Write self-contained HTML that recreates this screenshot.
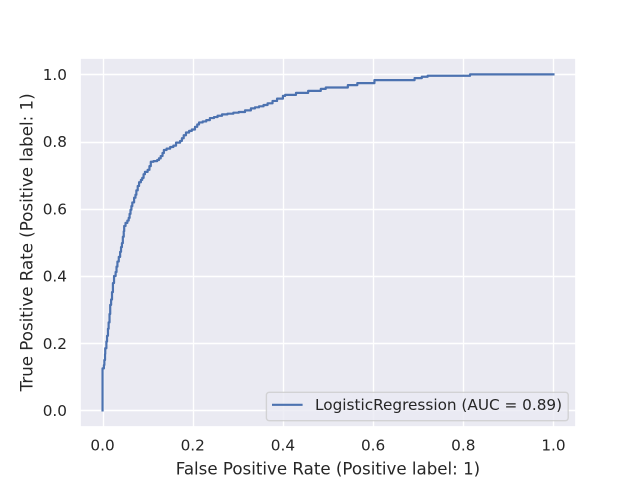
<!DOCTYPE html>
<html lang="en">
<head>
<meta charset="utf-8">
<title>ROC curve</title>
<style>
  html, body { margin: 0; padding: 0; background: #fff; width: 640px; height: 480px; overflow: hidden; }
  svg { display: block; }
  text { font-family: "DejaVu Sans", "Liberation Sans", sans-serif; fill: #262626; }
</style>
</head>
<body>
<svg id="chart" width="640" height="480" viewBox="0 0 640 480" xmlns="http://www.w3.org/2000/svg">
  <rect x="0" y="0" width="640" height="480" fill="#ffffff"/>
  <rect x="80" y="58" width="496" height="369" fill="#eaeaf2"/>
  <g id="grid"></g>
  <path id="curve" fill="none" stroke="#4c72b0" stroke-width="2.2" stroke-linejoin="round" stroke-linecap="square"/>
  <rect x="80" y="58" width="496" height="369" fill="none" stroke="#ffffff" stroke-width="1.74"/>
  <g id="x-ticks"></g>
  <g id="y-ticks"></g>
  <text x="328" y="474.5" font-size="16.67" text-anchor="middle">False Positive Rate (Positive label: 1)</text>
  <text x="0" y="0" font-size="16.67" text-anchor="middle" transform="translate(32.5 242.4) rotate(-90)">True Positive Rate (Positive label: 1)</text>
  <g>
    <rect x="266.4" y="392.3" width="301.8" height="28.4" rx="2.8" ry="2.8" fill="#eaeaf2" fill-opacity="0.8" stroke="#cccccc" stroke-opacity="0.8" stroke-width="1.39"/>
    <line x1="272" y1="404.8" x2="302.6" y2="404.8" stroke="#4c72b0" stroke-width="2.2"/>
    <text x="315" y="410" font-size="15.28">LogisticRegression (AUC = 0.89)</text>
  </g>
</svg>
<script>
const fprValues = [0, 0.003, 0.004, 0.0055, 0.006, 0.0085, 0.01, 0.012, 0.0135, 0.0155, 0.017, 0.019, 0.021, 0.023, 0.0255, 0.029, 0.031, 0.033, 0.036, 0.039, 0.041, 0.043, 0.045, 0.047, 0.048, 0.051, 0.055, 0.058, 0.06, 0.062, 0.064, 0.066, 0.07, 0.073, 0.075, 0.078, 0.081, 0.085, 0.088, 0.091, 0.094, 0.1, 0.104, 0.107, 0.113, 0.121, 0.125, 0.129, 0.133, 0.136, 0.142, 0.15, 0.157, 0.163, 0.172, 0.176, 0.18, 0.185, 0.192, 0.198, 0.205, 0.21, 0.214, 0.222, 0.23, 0.238, 0.247, 0.255, 0.265, 0.277, 0.29, 0.302, 0.316, 0.329, 0.338, 0.347, 0.357, 0.366, 0.377, 0.387, 0.4, 0.405, 0.429, 0.456, 0.484, 0.495, 0.544, 0.565, 0.603, 0.692, 0.708, 0.721, 0.815, 1];
const tprValues = [0.125, 0.135, 0.15, 0.168, 0.185, 0.205, 0.222, 0.243, 0.262, 0.287, 0.314, 0.33, 0.352, 0.379, 0.4, 0.412, 0.428, 0.443, 0.457, 0.472, 0.486, 0.498, 0.517, 0.533, 0.549, 0.558, 0.565, 0.573, 0.585, 0.597, 0.608, 0.619, 0.633, 0.642, 0.655, 0.668, 0.679, 0.686, 0.692, 0.703, 0.71, 0.716, 0.727, 0.74, 0.742, 0.745, 0.75, 0.757, 0.766, 0.775, 0.779, 0.784, 0.788, 0.797, 0.802, 0.81, 0.819, 0.827, 0.832, 0.836, 0.844, 0.851, 0.857, 0.86, 0.864, 0.87, 0.873, 0.877, 0.881, 0.883, 0.886, 0.888, 0.893, 0.899, 0.902, 0.905, 0.909, 0.914, 0.921, 0.928, 0.936, 0.939, 0.945, 0.951, 0.957, 0.961, 0.968, 0.974, 0.983, 0.989, 0.993, 0.996, 1, 1];
const xTickValues = [0, 0.2, 0.4, 0.6, 0.8, 1];
const yTickValues = [0, 0.2, 0.4, 0.6, 0.8, 1];
const xTickLabels = ["0.0", "0.2", "0.4", "0.6", "0.8", "1.0"];
const yTickLabels = ["0.0", "0.2", "0.4", "0.6", "0.8", "1.0"];

const NS = "http://www.w3.org/2000/svg";
const plot = { left: 80, right: 576, top: 57.6, bottom: 427.2 };
const domain = { min: -0.05, max: 1.05 };
function xScale(v) {
  return plot.left + (v - domain.min) / (domain.max - domain.min) * (plot.right - plot.left);
}
function yScale(v) {
  return plot.bottom - (v - domain.min) / (domain.max - domain.min) * (plot.bottom - plot.top);
}
function snap(px) {
  return Math.floor(px + 0.5) + 0.5;
}

const grid = document.getElementById("grid");
const xTicks = document.getElementById("x-ticks");
const yTicks = document.getElementById("y-ticks");

xTickValues.forEach(function (v, i) {
  const line = document.createElementNS(NS, "line");
  
  
  line.setAttribute("x1", snap(xScale(v)));
  line.setAttribute("x2", snap(xScale(v)));
  line.setAttribute("y1", plot.top);
  line.setAttribute("y2", plot.bottom);
  line.setAttribute("stroke", "#ffffff");
  line.setAttribute("stroke-width", "1.39");
  grid.appendChild(line);

  const label = document.createElementNS(NS, "text");
  
  
  label.setAttribute("x", xScale(v));
  label.setAttribute("y", plot.bottom + 23.5);
  label.setAttribute("font-size", "15.28");
  label.setAttribute("text-anchor", "middle");
  label.textContent = xTickLabels[i];
  xTicks.appendChild(label);
});

yTickValues.forEach(function (v, i) {
  const line = document.createElementNS(NS, "line");
  
  
  line.setAttribute("x1", plot.left);
  line.setAttribute("x2", plot.right);
  line.setAttribute("y1", snap(yScale(v)));
  line.setAttribute("y2", snap(yScale(v)));
  line.setAttribute("stroke", "#ffffff");
  line.setAttribute("stroke-width", "1.39");
  grid.appendChild(line);

  const label = document.createElementNS(NS, "text");
  
  
  label.setAttribute("x", plot.left - 13);
  label.setAttribute("y", yScale(v) + 5.6);
  label.setAttribute("font-size", "15.28");
  label.setAttribute("text-anchor", "end");
  label.textContent = yTickLabels[i];
  yTicks.appendChild(label);
});

let d = "M" + xScale(0).toFixed(2) + " " + yScale(0).toFixed(2);
fprValues.forEach(function (f, i) {
  d += "H" + xScale(f).toFixed(2) + "V" + yScale(tprValues[i]).toFixed(2);
});
document.getElementById("curve").setAttribute("d", d);
</script>
</body>
</html>
